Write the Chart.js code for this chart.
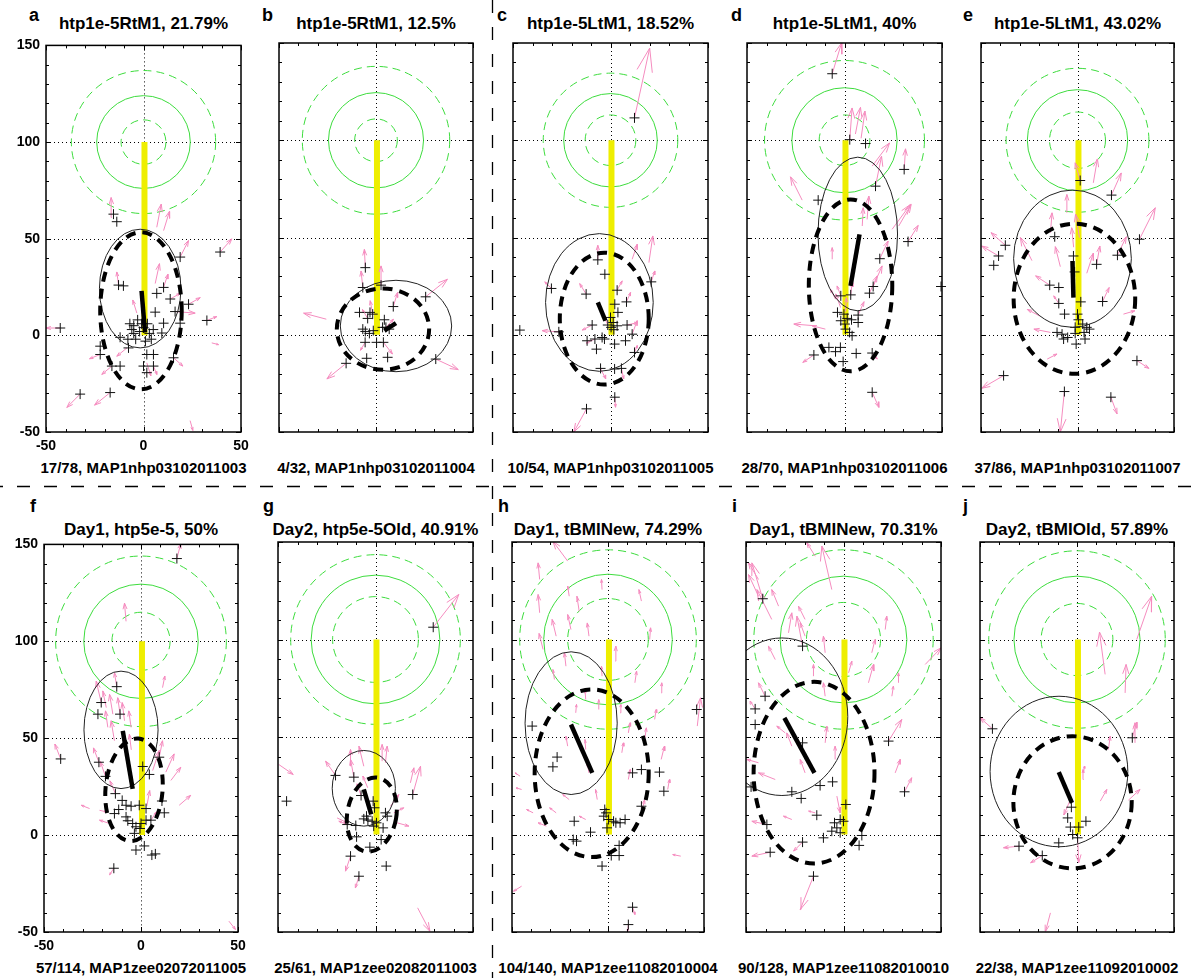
<!DOCTYPE html>
<html>
<head>
<meta charset="utf-8">
<script src="https://cdn.jsdelivr.net/npm/chart.js@4.4.1/dist/chart.umd.min.js"></script>
<style>
  html, body { margin: 0; padding: 0; background: #fff; }
  body { width: 1195px; height: 978px; position: relative; overflow: hidden;
         font-family: "Liberation Sans", Arial, Helvetica, sans-serif; }
  canvas.panel { position: absolute; }
  .txt { position: absolute; white-space: nowrap; color: #000; font-weight: bold; }
  .title { font-size: 17px; line-height: 17px; transform: translateX(-50%); }
  .foot { font-size: 15px; line-height: 15px; transform: translateX(-50%); }
  .letter { font-size: 18px; line-height: 18px; }
  #dividers { position: absolute; left: 0; top: 0; }
</style>
</head>
<body>
<svg id="dividers" width="1195" height="978">
  <line x1="0" y1="486.5" x2="1195" y2="486.5" stroke="#000" stroke-width="1.3" stroke-dasharray="13 14" stroke-dashoffset="10"/>
  <line x1="492.5" y1="0" x2="492.5" y2="978" stroke="#000" stroke-width="1.3" stroke-dasharray="13 14"/>
</svg>
<script>
// ---- text per panel ----
const panelLetters = ["a", "b", "c", "d", "e", "f", "g", "h", "i", "j"];
const panelTitles = [
  "htp1e-5RtM1, 21.79%", "htp1e-5RtM1, 12.5%", "htp1e-5LtM1, 18.52%", "htp1e-5LtM1, 40%", "htp1e-5LtM1, 43.02%",
  "Day1, htp5e-5, 50%", "Day2, htp5e-5Old, 40.91%", "Day1, tBMINew, 74.29%", "Day1, tBMINew, 70.31%", "Day2, tBMIOld, 57.89%"
];
const panelFooters = [
  "17/78, MAP1nhp03102011003", "4/32, MAP1nhp03102011004", "10/54, MAP1nhp03102011005",
  "28/70, MAP1nhp03102011006", "37/86, MAP1nhp03102011007",
  "57/114, MAP1zee02072011005", "25/61, MAP1zee02082011003", "104/140, MAP1zee11082010004",
  "90/128, MAP1zee11082010010", "22/38, MAP1zee11092010002"
];

// ---- axes ----
const xTickValues = [-50, 0, 50];
const yTickValues = [-50, 0, 50, 100, 150];
const gridX = [0];
const gridY = [0, 50, 100];

// ---- target (green rings around it, yellow path to it) ----
const targetCentre = [0, 100];
const targetPath = [[0.5, 0], [0.5, 100]];
// [solid, inner dashed, outer dashed] radius
const circleRadii = [
  [24, 11.5, 37], [24.5, 11, 38], [24, 13, 34.5], [27, 13, 41], [26, 14.5, 37],
  [29.5, 15, 44], [33, 22, 43.5], [33.5, 21, 46], [32.5, 19, 46], [32.5, 18.5, 45.5]
];

// ---- ellipses [cx, cy, rx, ry, rotationDeg] ----
const thinEllipses = [
  [-1.7, 24.2, 20.9, 30.7, 0], [10.3, 4.5, 28.7, 23.5, 0], [-5.7, 16.6, 27.6, 35.4, 0],
  [6.8, 51.8, 20.4, 39.5, 0], [-2.6, 39.1, 30.5, 35.3, 0], [-10.3, 54.3, 19.1, 30.3, 0],
  [-6.0, 23.7, 16.2, 19.4, 0], [-19.2, 57.1, 24.0, 36.6, 0], [-31.6, 60.4, 33.8, 40.4, 0],
  [-9.3, 32.3, 35.5, 38.6, 0]
];
const thickEllipses = [
  [-1.3, 12.7, 20.9, 40.6, 0], [3.6, 2.9, 23.8, 20.9, 0], [-3.2, 8.3, 22.8, 33.9, 0],
  [3.1, 25.4, 21.4, 44.2, 0], [-1.6, 18.5, 31.5, 38.6, 0], [-3.6, 23.4, 14.7, 26.5, 5],
  [-1.9, 10.2, 12.6, 19.2, 10], [-8.5, 31.4, 29.7, 43.0, 0], [-15.1, 31.7, 31.0, 46.6, 0],
  [-2.3, 16.5, 30.5, 33.9, 0]
];
// mean heading segment [x0, y0, x1, y1]
const headingSegments = [
  [-1.0, 23.0, 0.8, 1.5], [4.3, 2.1, 10.3, 6.0], [-6.5, 16.6, -2.6, 7.2], [7.7, 51.6, 3.1, 25.1],
  [-2.6, 37.9, -2.1, 19.1], [-9.4, 53.8, -4.3, 23.9], [-6.0, 23.1, -2.2, 10.3], [-19.3, 56.4, -8.2, 31.6],
  [-30.3, 59.8, -14.9, 31.6], [-9.4, 32.0, -2.6, 16.2]
];

// ---- crosses [x, y] ----
const crossesA = [[-15.4,62.7],[-13.7,58.8],[-42.7,3.8],[-32.5,-30.4],[-17.1,-29.6],[18.8,40.5],[39.3,43.1],[-12.8,26.0],[-10.3,25.6],[6.8,21.7],[10.3,24.8],[13.7,18.8],[23.1,16.1],[16.2,12.3],[32.5,7.7],[-22.2,-5.6],[-22.2,-9.9],[-16.2,-15.9],[-12.0,-15.9],[-7.7,-6.5],[1.7,-9.9],[5.1,-9.9],[0.0,-15.9],[5.1,-15.9],[1.7,-19.3],[15.4,-11.6],[10.3,6.3],[9.4,1.2],[18.8,6.3],[-5.0,5.0],[-3.0,8.0],[-6.0,3.0],[-2.0,2.0],[0.0,4.0],[2.0,6.0],[3.0,1.0],[5.0,3.0],[-4.0,-2.0],[-8.0,-2.0],[1.0,-3.0],[-1.0,6.0],[-7.0,6.0],[6.0,12.0],[-12.0,-1.0],[4.0,-2.0],[-5.0,1.0]];
const crossesB = [[-5.5,34.5],[-6.8,24.3],[2.6,25.5],[25.6,19.5],[8.9,14.5],[-8.5,11.5],[-3.1,11.5],[-1.7,10.6],[-4.3,8.4],[4.3,7.7],[3.4,3.8],[5.1,3.8],[-6.8,2.9],[-5.5,1.7],[-1.4,2.1],[-3.4,0.7],[6.8,2.9],[-5.6,-3.9],[0.3,-3.9],[3.8,-3.9],[-4.8,-12.1],[6.0,-11.6],[30.8,-12.5],[-15.4,-14.7]];
const crossesC = [[12.3,111.5],[-46.5,2.4],[-30.3,23.8],[-26.5,1.5],[-12.5,20.9],[-6.5,38.5],[-2.9,31.1],[3.4,22.9],[8.2,16.9],[2.2,15.7],[3.8,11.5],[0.0,8.9],[1.4,6.3],[0.3,3.8],[1.7,2.6],[-9.4,5.0],[-1.4,5.0],[3.4,4.6],[8.5,5.0],[11.1,0.3],[-12.0,-3.1],[-8.0,-2.2],[-4.3,-1.4],[-3.1,-2.2],[-7.2,-7.4],[2.1,-4.8],[7.7,-3.1],[12.3,-9.1],[-5.1,-17.3],[2.1,-17.6],[5.6,-17.3],[2.2,-32.1],[-12.3,-38.1],[20.9,27.2]];
const crossesD = [[-6.3,134.2],[2.7,100.3],[10.8,98.3],[30.6,85.0],[15.9,76.4],[-13.5,69.2],[32.6,47.9],[18.1,39.1],[14.7,24.8],[12.8,21.4],[3.2,20.5],[-1.9,20.0],[49.5,24.8],[-3.6,11.5],[-0.3,10.6],[1.4,8.4],[-1.9,7.2],[0.2,5.5],[3.6,7.7],[7.0,10.1],[7.0,6.3],[0.5,2.9],[2.6,1.2],[3.9,-0.5],[-2.1,-6.5],[-8.0,-6.5],[-4.6,-8.7],[-15.7,-10.4],[-0.7,-13.8],[6.0,-9.6],[14.2,-9.4],[14.2,-29.6]];
const crossesE = [[1.4,79.3],[17.6,71.8],[-11.8,50.4],[32.1,49.1],[-37.4,46.0],[-40.9,40.5],[-43.4,35.7],[-2.1,40.5],[9.9,36.2],[20.7,40.9],[-1.5,32.3],[-14.4,25.5],[-9.7,24.3],[-9.7,16.1],[-6.7,10.6],[1.7,16.9],[13.0,17.1],[0.0,10.6],[0.5,7.7],[-1.2,3.8],[2.7,5.5],[4.8,3.8],[6.2,2.9],[3.4,1.2],[-1.2,0.7],[-10.6,1.2],[-8.0,0.3],[-5.1,-1.4],[-7.2,-2.2],[-0.7,-4.8],[3.9,-2.2],[30.8,-13.3],[-38.3,-21.0],[-6.8,-29.2],[17.3,-32.1]];
const crossesF = [[18.5,142.7],[-12.5,76.6],[-20.5,68.4],[-22.2,62.4],[-10.8,62.4],[-41.4,39.3],[-21.7,37.6],[-18.3,30.3],[9.4,40.2],[0.9,35.4],[4.3,31.3],[-13.2,21.4],[-9.7,17.9],[-7.7,15.4],[-11.5,13.2],[-5.1,14.9],[-0.9,15.4],[2.6,13.7],[10.8,17.6],[12.0,11.5],[-13.7,11.1],[-7.7,9.4],[-6.8,7.4],[-4.3,6.0],[0.0,6.0],[2.6,7.7],[-2.6,4.3],[-0.5,3.4],[-3.4,0.9],[-2.6,-7.7],[1.7,-5.6],[5.6,-10.3],[7.4,-9.7],[-14.0,-17.1],[5.1,7.7]];
const crossesG = [[29.6,106.3],[-45.6,17.1],[-20.5,30.3],[-11.1,29.4],[19.1,20.5],[-7.4,20.0],[-1.2,17.1],[-0.5,13.7],[5.1,11.1],[6.0,9.4],[-4.6,9.4],[-6.0,8.0],[-3.9,7.4],[-1.7,6.8],[0.5,6.0],[-0.9,4.3],[-14.5,5.1],[-10.1,4.6],[3.9,3.4],[-9.7,-1.2],[2.9,-2.6],[-2.9,-6.5],[-12.8,-11.1],[-8.5,-21.4],[5.5,-16.2]];
const crossesH = [[46.2,64.1],[-39.5,55.6],[-26.5,39.7],[-28.7,34.7],[12.8,31.6],[17.4,33.3],[26.8,32.0],[29.1,22.2],[17.4,14.5],[-1.7,12.8],[-1.0,11.1],[-2.2,9.4],[0.3,7.7],[2.9,6.8],[6.3,6.0],[8.9,7.7],[4.1,6.0],[-0.5,3.4],[-17.6,6.8],[-9.1,1.2],[-18.1,-2.6],[-16.4,-3.4],[5.8,-5.6],[1.7,-10.8],[5.8,-10.8],[-3.1,-16.2],[12.8,-37.3],[10.6,-46.2]];
const crossesI = [[-41.4,120.9],[-21.0,96.6],[-40.2,70.9],[-45.3,64.4],[-45.3,56.4],[-21.0,47.0],[23.1,47.9],[-5.6,27.0],[-12.0,25.1],[-26.5,21.9],[-21.7,18.5],[-47.4,24.4],[31.3,21.9],[-13.7,9.9],[1.2,15.4],[0.0,6.8],[-1.7,7.7],[-4.6,6.0],[-3.4,3.4],[-6.0,1.7],[-1.7,0.9],[-10.3,-1.7],[9.4,-0.5],[-39.3,5.1],[-21.0,-3.9],[8.0,-5.6],[-37.6,-9.1],[-15.4,-21.4]];
const crossesJ = [[-43.6,54.2],[28.5,49.6],[-2.9,14.0],[-4.8,8.5],[4.6,6.8],[-3.4,3.8],[0.9,3.8],[-2.2,0.0],[0.3,-1.7],[-9.4,-4.3],[-29.9,-6.0],[-17.9,-10.8]];

// ---- velocity arrows [x0, y0, x1, y1] ----
const arrowsA = [[-16.2,61.0,-16.6,71.3],[6.8,55.9,9.1,67.9],[10.3,54.2,13.3,64.1],[18.8,40.5,23.1,49.1],[39.3,43.1,45.3,49.9],[-42.7,3.8,-49.9,3.8],[-32.5,-30.4,-39.3,-37.3],[-17.1,-29.6,-25.1,-36.1],[23.1,16.1,29.1,19.5],[16.2,12.3,26.5,11.5],[32.5,7.7,37.6,9.7],[35.0,-3.9,38.5,-4.8],[23.9,-44.1,25.3,-49.2],[15.4,-11.6,20.2,-15.9],[-22.2,-9.9,-27.7,-12.1],[10.3,24.8,12.5,31.6],[6.0,26.8,8.2,37.1],[-12.8,26.0,-13.7,32.8],[1.7,-14.2,3.8,-21.0],[-16.2,-15.9,-21.4,-20.2],[-8.5,-6.5,-13.7,-10.8],[13.7,18.8,18.8,21.7],[-3.4,11.5,-5.5,18.3],[5.1,-15.9,6.8,-20.2]];
const arrowsB = [[-5.5,34.5,-6.0,43.9],[-6.8,24.3,-7.7,32.8],[2.6,25.5,2.6,35.4],[25.6,19.5,36.8,28.5],[8.9,14.5,11.1,21.7],[-25.6,8.0,-37.3,11.1],[30.8,-12.5,42.4,-17.9],[-15.4,-14.7,-25.3,-22.7],[3.8,-3.9,8.5,-9.9],[-4.3,8.4,-7.0,13.0],[-1.7,10.6,-3.0,17.5],[5.1,3.8,9.0,8.0],[-5.6,-3.9,-8.0,-8.0]];
const arrowsC = [[12.3,111.5,20.1,147.4],[-12.3,-38.1,-18.8,-50.0],[20.9,27.2,22.7,32.8],[11.1,38.8,13.7,46.5],[19.7,37.1,21.7,50.8],[-30.3,23.8,-33.7,27.2],[-26.5,1.5,-35.0,2.1],[-12.5,20.9,-15.8,26.3],[-6.5,38.5,-6.5,46.0],[3.4,22.9,6.0,27.7],[8.2,16.9,10.3,21.7],[11.1,0.3,13.7,7.2],[12.3,-9.1,13.7,-5.6],[2.2,-32.1,2.6,-37.3],[-5.1,-17.3,-2.5,-22.7],[5.6,-17.3,6.8,-22.7],[-9.4,5.0,-14.5,2.4],[8.5,5.0,14.0,6.3],[-1.4,5.0,-3.5,9.9],[-8.0,-2.2,-12.5,-4.3]];
const arrowsD = [[-6.3,134.2,-1.5,150.0],[2.7,100.3,3.9,116.6],[5.6,103.2,8.2,116.9],[8.5,101.0,10.5,115.0],[14.2,86.7,23.1,98.6],[30.6,85.0,31.3,95.6],[15.9,76.4,19.0,91.8],[-21.7,69.2,-27.7,81.2],[32.6,47.9,37.8,56.2],[24.4,54.2,33.8,67.0],[27.8,55.9,34.2,67.0],[18.1,39.1,22.4,48.2],[11.6,59.3,12.5,71.3],[9.1,55.9,9.6,65.3],[-6.3,38.8,-6.3,44.8],[14.7,24.8,19.3,35.4],[12.8,21.4,16.8,30.3],[3.2,20.5,3.9,26.8],[-1.9,20.0,-3.8,25.1],[-4.6,18.3,-7.2,23.4],[-14.9,4.6,-26.0,5.5],[-9.8,2.9,-16.6,4.6],[-15.7,-10.4,-21.4,-14.2],[14.2,-29.6,17.6,-37.3],[14.2,-9.4,16.8,-12.5],[7.0,10.1,10.0,17.0],[0.5,12.0,1.0,19.0],[-2.0,14.0,-4.5,21.0]];
const arrowsE = [[1.4,79.3,-1.2,88.4],[8.2,78.1,10.3,90.4],[17.6,71.8,22.7,83.2],[32.1,49.1,40.3,65.3],[-38.3,-21.0,-49.6,-27.5],[-6.8,-29.2,-8.9,-50.0],[17.3,-32.1,20.5,-40.7],[30.8,-13.3,37.0,-17.3],[-37.4,46.0,-44.8,52.5],[-40.9,40.5,-49.6,45.6],[-14.0,52.5,-13.2,62.7],[-5.5,62.7,-5.5,72.1],[-23.6,38.1,-29.6,50.0],[20.7,40.9,25.3,50.4],[9.9,36.2,11.6,45.6],[-8.9,35.0,-11.5,45.3],[4.8,31.6,8.2,41.9],[23.8,10.6,29.7,12.3],[-14.0,1.2,-22.6,2.9],[-15.7,-12.5,-10.6,-9.9],[13.0,17.1,16.4,24.3],[-9.7,16.1,-12.3,20.0],[-14.4,25.5,-21.7,30.3],[-19.5,9.6,-26.0,13.0],[-2.0,45.0,-3.0,55.0],[1.0,50.0,-1.0,62.0]];
const arrowsF = [[18.5,142.7,20.5,150.4],[-7.7,110.3,-8.5,119.7],[11.1,76.1,12.3,82.1],[-12.5,76.6,-13.7,83.8],[-20.5,68.4,-23.1,79.5],[-17.9,65.8,-19.7,74.4],[-14.5,62.4,-16.2,72.6],[-10.8,62.4,-12.0,70.9],[-8.5,59.0,-9.7,68.4],[-17.1,55.6,-18.3,64.1],[-13.7,48.7,-15.4,59.0],[-5.1,55.6,-6.3,64.1],[-41.4,39.3,-44.4,47.0],[6.0,33.3,9.4,43.6],[9.4,40.2,11.1,48.7],[12.8,32.5,17.1,41.9],[15.4,28.2,20.5,35.0],[19.7,15.4,25.6,20.5],[-26.5,13.7,-30.8,15.4],[-21.4,12.8,-17.9,12.0],[-14.0,-17.1,-16.2,-20.5],[45.3,-44.4,48.7,-48.7],[-16.2,6.0,-21.4,7.7],[-18.3,30.3,-21.0,38.0],[-21.7,37.6,-24.5,45.0],[-13.2,21.4,-16.0,28.0],[3.0,15.0,4.5,23.0],[5.1,7.7,8.0,12.0],[-5.0,44.0,-6.0,52.0]];
const arrowsG = [[29.6,106.3,42.7,123.1],[-49.6,35.9,-42.2,30.8],[21.6,-37.6,27.9,-49.6],[19.1,20.5,23.1,35.0],[17.9,26.5,19.7,34.2],[-11.1,29.4,-12.8,38.5],[-12.8,35.0,-12.8,43.6],[-20.5,30.3,-25.6,37.6],[5.1,36.8,6.0,45.3],[3.4,37.6,3.4,46.2],[-6.0,35.0,-8.5,45.3],[9.4,11.1,14.5,13.7],[11.1,6.0,17.1,4.3],[-12.8,-11.1,-15.4,-18.8],[-8.5,-21.4,-10.3,-27.4],[-14.5,5.1,-18.8,6.8],[-19.7,8.5,-14.5,6.0],[-7.4,20.0,-9.5,26.0],[7.7,14.5,12.0,20.5],[-4.0,24.0,-6.5,30.0]];
const arrowsH = [[-21.0,140.2,-28.7,150.4],[-35.6,113.7,-36.4,123.1],[-27.0,101.7,-29.1,110.3],[-19.3,105.1,-21.0,112.8],[-15.0,114.5,-16.2,122.2],[-33.8,94.9,-35.9,103.1],[-9.9,101.7,-10.8,108.5],[3.8,88.9,4.1,96.6],[21.7,100.0,22.2,106.0],[17.4,119.7,16.1,125.6],[27.7,72.6,28.0,77.8],[46.5,55.6,48.2,70.1],[14.0,77.8,14.9,83.8],[37.9,-11.1,33.7,-10.3],[-45.0,-26.5,-49.2,-29.1],[-16.8,62.4,-16.4,66.7],[-4.8,64.1,-4.8,69.2],[-21.0,45.3,-21.9,50.4],[-11.6,43.6,-12.0,48.7],[7.2,41.9,8.0,47.0],[10.6,52.1,11.5,57.3],[19.1,48.7,20.0,54.7],[27.7,38.5,29.4,45.3],[31.1,23.1,32.0,28.2],[-45.8,29.9,-48.4,31.6],[-45.0,23.1,-47.9,23.9],[-39.0,11.1,-42.4,12.8],[-32.1,4.3,-36.4,6.0],[-27.0,11.1,-30.4,13.7],[-9.9,31.6,-10.8,36.8],[-5.6,17.9,-6.5,23.1],[17.4,11.1,19.1,17.9],[-20.2,17.9,-23.6,20.5],[-11.6,7.7,-15.0,9.4],[12.8,-37.3,14.0,-41.0],[-3.1,125.6,-3.4,130.8],[-27.9,79.5,-28.7,84.6],[10.6,28.2,11.5,33.3],[10.6,-46.2,10.3,-49.6],[-35.6,130.8,-36.4,139.3],[-20.2,122.2,-21.0,127.4],[-21.9,86.3,-22.7,93.2],[-3.1,81.2,-3.4,86.3],[-11.6,69.2,-12.0,74.4],[6.3,62.4,6.7,66.7],[24.3,59.0,25.1,64.1]];
const arrowsI = [[-41.4,120.9,-47.0,139.3],[-43.6,122.2,-48.7,133.3],[-36.8,110.3,-44.4,125.6],[-33.3,117.1,-36.8,125.6],[-6.0,125.6,-11.1,147.9],[-14.5,142.7,-18.8,149.6],[-21.0,96.6,-23.9,112.0],[-28.2,103.4,-26.5,113.7],[-19.7,101.7,-22.2,108.5],[-15.4,81.2,-15.4,87.2],[-9.4,93.2,-10.3,101.7],[2.6,82.9,4.3,88.9],[12.8,77.8,15.4,87.2],[21.4,105.1,22.2,112.0],[28.2,77.8,28.2,82.9],[41.9,87.2,50.0,95.7],[23.1,47.9,29.9,59.0],[31.3,21.9,35.0,29.1],[26.5,31.6,29.1,38.5],[-40.2,70.9,-43.6,77.8],[-45.3,64.4,-47.9,68.4],[-43.6,36.8,-49.6,38.5],[-35.0,28.2,-43.6,31.6],[-39.3,5.1,-47.0,6.8],[-37.6,-9.1,-47.0,-11.1],[-15.4,-21.4,-22.2,-38.5],[-21.0,-3.9,-25.6,-8.5],[-26.5,45.3,-29.1,52.1],[-29.9,52.1,-34.2,55.6],[-9.4,47.0,-8.5,55.6],[-4.3,38.5,-4.3,45.3],[-3.4,19.7,-1.7,11.1],[-14.5,11.1,-17.9,12.0],[-26.5,7.7,-30.8,9.4],[-43.6,130.8,-48.7,139.3],[-19.7,110.3,-23.1,117.1],[14.5,93.2,16.2,100.0],[24.8,70.9,25.6,76.1],[-9.4,70.9,-10.3,77.8],[-35.0,89.7,-38.5,96.6],[-19.7,31.6,-22.2,38.5]];
const arrowsJ = [[30.8,100.0,38.5,122.2],[14.5,82.1,11.6,103.8],[24.8,72.6,25.3,87.2],[-43.6,54.2,-49.9,59.8],[28.5,49.6,30.8,57.6],[29.9,47.0,29.9,57.3],[16.2,43.6,17.1,50.4],[12.0,17.1,15.4,23.1],[26.5,17.6,32.5,23.1],[-29.9,-6.0,-37.9,-6.8],[-17.9,-10.8,-23.9,-14.5],[-13.7,-40.2,-16.2,-49.6],[0.3,-1.7,0.9,-14.5],[-3.4,17.9,-6.8,10.0],[3.4,31.6,3.8,35.0],[3.4,28.2,3.1,33.3]];

const crossPoints = [crossesA, crossesB, crossesC, crossesD, crossesE, crossesF, crossesG, crossesH, crossesI, crossesJ];
const arrowVectors = [arrowsA, arrowsB, arrowsC, arrowsD, arrowsE, arrowsF, arrowsG, arrowsH, arrowsI, arrowsJ];

// ---- page layout (plot-area pixel boxes) ----
const plotLeft   = [46, 279, 513, 747, 981, 44, 278, 512, 746, 980];
const plotRight  = [241, 473, 708, 942, 1174, 238, 473, 704, 941, 1174];
const plotTop    = [43, 43, 43, 43, 43, 542, 542, 542, 542, 542];
const plotBottom = [432, 432, 432, 432, 432, 932, 932, 932, 932, 932];
const letterX    = [29, 262, 497, 731, 963, 30, 263, 498, 732, 963];

const FONT = '"Liberation Sans", Arial, Helvetica, sans-serif';
Chart.defaults.font.family = FONT;

const GREEN = "#3ddc3d";
const PINK = "#f58cbf";

function strokeEllipse(ctx, xs, ys, e) {
  const [cx, cy, rx, ry, rot] = e;
  const px = xs.getPixelForValue(cx), py = ys.getPixelForValue(cy);
  const sx = Math.abs(xs.getPixelForValue(cx + rx) - px);
  const sy = Math.abs(ys.getPixelForValue(cy + ry) - py);
  ctx.beginPath();
  ctx.ellipse(px, py, sx, sy, rot * Math.PI / 180, 0, 2 * Math.PI);
  ctx.stroke();
}

// quiver-style arrow: shaft + two head wings (alpha = beta = 0.33 like matlab)
function arrowPath(list) {
  const pts = [];
  const a = 0.33, b = 0.33;
  list.forEach(([x0, y0, x1, y1]) => {
    const dx = x1 - x0, dy = y1 - y0;
    pts.push({x: x0, y: y0}, {x: x1, y: y1}, {x: null, y: null});
    pts.push({x: x1 - a * (dx + b * dy), y: y1 - a * (dy - b * dx)},
             {x: x1, y: y1},
             {x: x1 - a * (dx - b * dy), y: y1 - a * (dy + b * dx)},
             {x: null, y: null});
  });
  return pts;
}

const painter = {
  id: "painter",
  beforeDatasetsDraw(chart, args, opts) {
    const {ctx, chartArea: a, scales: {x, y}} = chart;
    ctx.save();
    // dotted grid
    ctx.strokeStyle = "#000";
    ctx.lineWidth = 1;
    ctx.setLineDash([1, 3]);
    gridX.forEach(v => {
      const px = Math.round(x.getPixelForValue(v)) + 0.5;
      ctx.beginPath(); ctx.moveTo(px, a.top); ctx.lineTo(px, a.bottom); ctx.stroke();
    });
    gridY.forEach(v => {
      const py = Math.round(y.getPixelForValue(v)) + 0.5;
      ctx.beginPath(); ctx.moveTo(a.left, py); ctx.lineTo(a.right, py); ctx.stroke();
    });
    // green target rings
    ctx.beginPath();
    ctx.rect(a.left, a.top, a.right - a.left, a.bottom - a.top);
    ctx.clip();
    const [rSolid, rInner, rOuter] = circleRadii[opts.panel];
    const [tx, ty] = targetCentre;
    ctx.strokeStyle = GREEN;
    ctx.setLineDash([]);
    strokeEllipse(ctx, x, y, [tx, ty, rSolid, rSolid, 0]);
    ctx.setLineDash([8, 5]);
    strokeEllipse(ctx, x, y, [tx, ty, rInner, rInner, 0]);
    strokeEllipse(ctx, x, y, [tx, ty, rOuter, rOuter, 0]);
    ctx.restore();
  },
  beforeDatasetDraw(chart, args, opts) {
    if (chart.data.datasets[args.index].label !== "heading") return;
    const {ctx, chartArea: a, scales: {x, y}} = chart;
    ctx.save();
    ctx.beginPath();
    ctx.rect(a.left, a.top, a.right - a.left, a.bottom - a.top);
    ctx.clip();
    ctx.strokeStyle = "#222";
    ctx.lineWidth = 1;
    ctx.setLineDash([]);
    strokeEllipse(ctx, x, y, thinEllipses[opts.panel]);
    ctx.strokeStyle = "#000";
    ctx.lineWidth = 4;
    ctx.setLineDash([10, 7]);
    strokeEllipse(ctx, x, y, thickEllipses[opts.panel]);
    ctx.restore();
  },
  afterDatasetsDraw(chart) {
    const {ctx, chartArea: a, scales: {x, y}} = chart;
    ctx.save();
    ctx.strokeStyle = "#000";
    ctx.lineWidth = 1;
    ctx.setLineDash([]);
    ctx.beginPath();
    for (let v = x.min; v <= x.max; v += 10) {
      const px = Math.round(x.getPixelForValue(v)) + 0.5;
      const len = v % 50 === 0 ? 5 : 3;
      ctx.moveTo(px, a.bottom); ctx.lineTo(px, a.bottom - len);
      ctx.moveTo(px, a.top); ctx.lineTo(px, a.top + len);
    }
    for (let v = y.min; v <= y.max; v += 10) {
      const py = Math.round(y.getPixelForValue(v)) + 0.5;
      const len = v % 50 === 0 ? 5 : 3;
      ctx.moveTo(a.left, py); ctx.lineTo(a.left + len, py);
      ctx.moveTo(a.right, py); ctx.lineTo(a.right - len, py);
    }
    ctx.stroke();
    ctx.lineWidth = 1.5;
    ctx.strokeRect(a.left, a.top, a.right - a.left, a.bottom - a.top);
    ctx.restore();
  }
};

function addText(cls, text, left, top) {
  const d = document.createElement("div");
  d.className = "txt " + cls;
  d.textContent = text;
  d.style.left = left + "px";
  d.style.top = top + "px";
  document.body.appendChild(d);
}

function buildPanel(i) {
  const L = plotLeft[i], R = plotRight[i], T = plotTop[i], B = plotBottom[i];
  const padL = 50, padR = 14, padT = 12, padB = 26;
  const labelled = i === 0 || i === 5;
  const row2 = i >= 5;

  addText("letter", panelLetters[i], letterX[i], row2 ? 497 : 6);
  addText("title", panelTitles[i], (L + R) / 2, row2 ? 521 : 15);
  addText("foot", panelFooters[i], (L + R) / 2, B + 28);

  const cv = document.createElement("canvas");
  cv.className = "panel";
  cv.width = (R - L) + padL + padR;
  cv.height = (B - T) + padT + padB;
  cv.style.left = (L - padL) + "px";
  cv.style.top = (T - padT) + "px";
  document.body.appendChild(cv);

  const tickFont = {family: FONT, size: 14, weight: "bold"};

  new Chart(cv.getContext("2d"), {
    type: "scatter",
    data: {
      datasets: [
        {
          type: "line", label: "path", order: 4,
          data: targetPath.map(([px, py]) => ({x: px, y: py})),
          borderColor: "#eeee00", borderWidth: 6, borderCapStyle: "butt",
          pointRadius: 0, fill: false, tension: 0
        },
        {
          type: "line", label: "arrows", order: 3,
          data: arrowPath(arrowVectors[i]),
          borderColor: PINK, borderWidth: 1, pointRadius: 0,
          fill: false, tension: 0, spanGaps: false
        },
        {
          type: "scatter", label: "crosses", order: 2,
          data: crossPoints[i].map(([px, py]) => ({x: px, y: py})),
          pointStyle: "cross", pointRadius: 5, borderColor: "#111",
          borderWidth: 1, clip: false
        },
        {
          type: "line", label: "heading", order: 1,
          data: [{x: headingSegments[i][0], y: headingSegments[i][1]},
                 {x: headingSegments[i][2], y: headingSegments[i][3]}],
          borderColor: "#000", borderWidth: 4.5, borderCapStyle: "butt",
          pointRadius: 0, fill: false, tension: 0
        }
      ]
    },
    options: {
      responsive: false,
      animation: false,
      devicePixelRatio: 1,
      events: [],
      layout: {padding: {left: 0, right: padR, top: padT, bottom: 0}},
      plugins: {
        legend: {display: false},
        tooltip: {enabled: false},
        painter: {panel: i}
      },
      scales: {
        x: {
          type: "linear", min: -50, max: 50,
          grid: {display: false, drawTicks: false}, border: {display: false},
          afterBuildTicks: s => { s.ticks = xTickValues.map(v => ({value: v})); },
          afterFit: s => { s.height = padB; },
          ticks: {display: labelled, padding: 6, color: "#000", font: tickFont,
                  maxRotation: 0, autoSkip: false}
        },
        y: {
          type: "linear", min: -50, max: 150,
          grid: {display: false, drawTicks: false}, border: {display: false},
          afterBuildTicks: s => { s.ticks = yTickValues.map(v => ({value: v})); },
          afterFit: s => { s.width = padL; },
          ticks: {display: labelled, padding: 6, color: "#000", font: tickFont, autoSkip: false}
        }
      }
    },
    plugins: [painter]
  });
}

for (let i = 0; i < panelTitles.length; i++) buildPanel(i);
</script>
</body>
</html>
